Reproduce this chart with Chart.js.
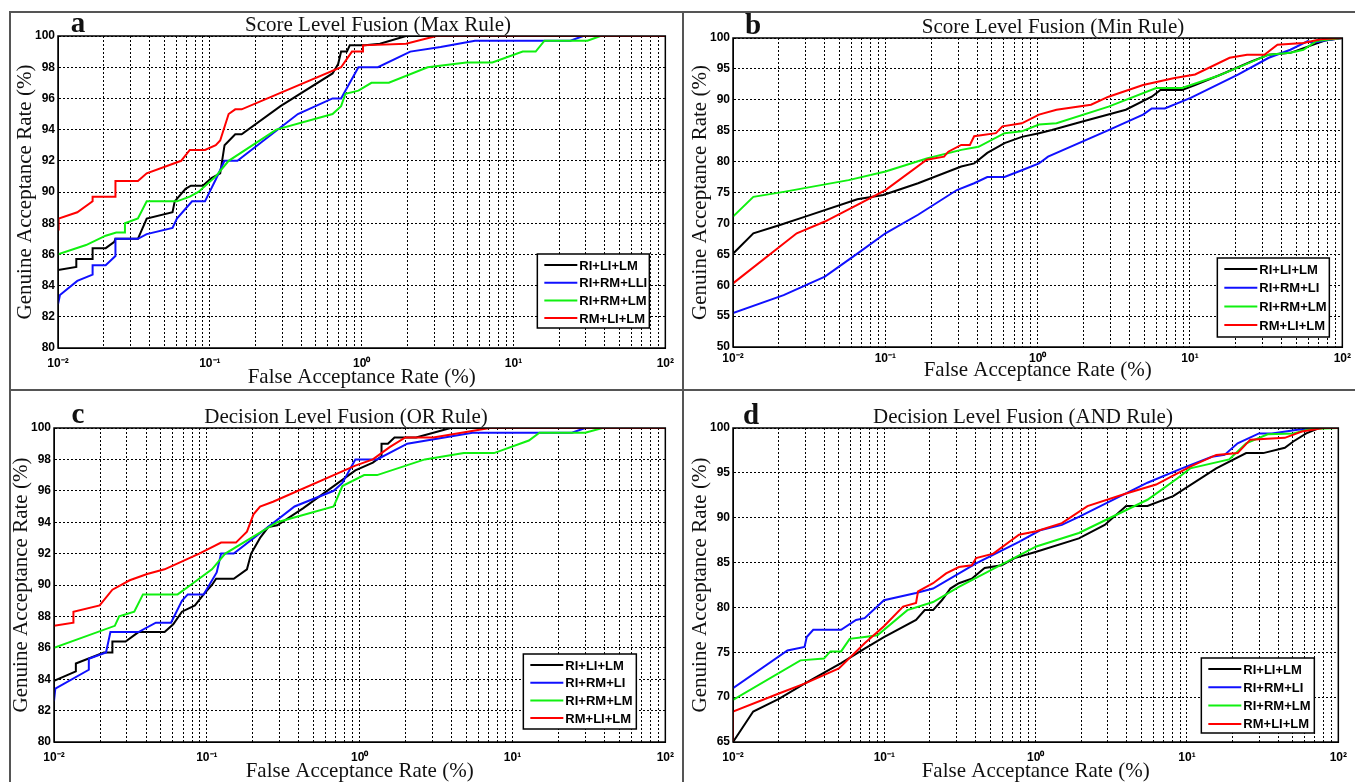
<!DOCTYPE html>
<html>
<head>
<meta charset="utf-8">
<script src="https://cdn.jsdelivr.net/npm/chart.js@4.4.1/dist/chart.umd.min.js"></script>
<style>
  body { margin: 0; background: #fff; width: 1355px; height: 782px; position: relative; overflow: hidden; font-family: 'Liberation Serif', serif; }
  canvas { position: absolute; }
  .ttl { position: absolute; font-size: 21px; color: #111; white-space: nowrap; transform: translate(-50%, -50%); }
  .lett { position: absolute; font-size: 29px; font-weight: bold; color: #111; transform: translate(-50%, -50%); }
  .ln { position: absolute; background: #555; }
</style>
</head>
<body>
<div class="ln" style="left:9px;top:11px;width:2px;height:771px"></div>
<div class="ln" style="left:9px;top:11px;width:1346px;height:2px"></div>
<div class="ln" style="left:682px;top:11px;width:2px;height:771px"></div>
<div class="ln" style="left:9px;top:389px;width:1346px;height:2px"></div>

<canvas id="panelA" width="672" height="377" style="left:10px;top:12px"></canvas>
<canvas id="panelB" width="670" height="377" style="left:685px;top:12px"></canvas>
<canvas id="panelC" width="672" height="390" style="left:10px;top:392px"></canvas>
<canvas id="panelD" width="670" height="390" style="left:685px;top:392px"></canvas>

<div class="lett" style="left:78px;top:22px">a</div>
<div class="lett" style="left:753px;top:24px">b</div>
<div class="lett" style="left:78px;top:413px">c</div>
<div class="lett" style="left:751px;top:414px">d</div>
<div class="ttl" id="ttlA" style="left:378px;top:24px"></div>
<div class="ttl" id="ttlB" style="left:1053px;top:26px"></div>
<div class="ttl" id="ttlC" style="left:346px;top:416px"></div>
<div class="ttl" id="ttlD" style="left:1023px;top:416px"></div>

<script>
// x = False Acceptance Rate (%), y = Genuine Acceptance Rate (%)
var farDecades = [0.01, 0.1, 1, 10, 100];
var farTickLabels = ['10⁻²', '10⁻¹', '10⁰', '10¹', '10²'];
var garTicksA = [80, 82, 84, 86, 88, 90, 92, 94, 96, 98, 100];
var garTicksB = [50, 55, 60, 65, 70, 75, 80, 85, 90, 95, 100];
var garTicksC = [80, 82, 84, 86, 88, 90, 92, 94, 96, 98, 100];
var garTicksD = [65, 70, 75, 80, 85, 90, 95, 100];

var namesA = ['RI+LI+LM', 'RI+RM+LLI', 'RI+RM+LM', 'RM+LI+LM'];
var namesBCD = ['RI+LI+LM', 'RI+RM+LI', 'RI+RM+LM', 'RM+LI+LM'];
var panelTitles = ['Score Level Fusion (Max Rule)', 'Score Level Fusion (Min Rule)',
  'Decision Level Fusion (OR Rule)', 'Decision Level Fusion (AND Rule)'];

// a: score level fusion, max rule
var maxBlack = [[0.01,84.2],[0.01,85.0],[0.0132,85.2],[0.0132,85.7],[0.0169,85.7],[0.0169,86.4],[0.0206,86.4],[0.0235,86.8],[0.0239,87.0],[0.0336,87.0],[0.0384,88.3],[0.0568,88.7],[0.0587,89.4],[0.0692,90.2],[0.075,90.4],[0.0899,90.4],[0.1025,90.9],[0.117,91.2],[0.125,93.0],[0.147,93.7],[0.162,93.7],[0.292,95.5],[0.643,97.6],[0.70,98.2],[0.732,99.0],[0.80,99.0],[0.835,99.4],[1.05,99.4],[1.32,99.5],[1.96,100],[100,100]];
var maxBlue = [[0.01,82.8],[0.0103,83.4],[0.0134,84.3],[0.0169,84.7],[0.0169,85.3],[0.0206,85.3],[0.0239,85.9],[0.0239,87.0],[0.0336,87.0],[0.0384,87.3],[0.0568,87.7],[0.0607,88.3],[0.0764,89.4],[0.0929,89.4],[0.1094,90.8],[0.1248,92.0],[0.152,92.0],[0.380,95.0],[0.643,96.0],[0.732,96.0],[0.952,98.0],[1.28,98.0],[2.09,99.0],[3.31,99.3],[5.58,99.7],[23.7,99.7],[28.8,100],[100,100]];
var maxGreen = [[0.01,86.0],[0.0153,86.6],[0.0206,87.2],[0.0242,87.4],[0.0276,87.4],[0.0276,88.0],[0.0336,88.3],[0.0384,89.4],[0.0607,89.4],[0.0738,89.7],[0.0841,90.0],[0.1094,91.0],[0.133,92.0],[0.274,94.0],[0.643,95.0],[0.732,95.5],[0.782,96.3],[0.952,96.5],[1.16,97.0],[1.51,97.0],[2.72,98.0],[4.90,98.3],[7.26,98.3],[11.5,99.0],[14.0,99.0],[16.0,99.7],[30.7,99.7],[37.4,100],[100,100]];
var maxRed = [[0.01,87.6],[0.0101,88.3],[0.0134,88.7],[0.0169,89.4],[0.0169,89.7],[0.0239,89.7],[0.0239,90.7],[0.0336,90.7],[0.0384,91.2],[0.0647,92.0],[0.0738,92.7],[0.0929,92.7],[0.1094,93.0],[0.117,93.3],[0.133,95.0],[0.147,95.3],[0.162,95.3],[0.732,98.0],[0.863,99.0],[1.02,99.0],[1.02,99.4],[1.96,99.5],[3.10,100],[100,100]];

// b: score level fusion, min rule
var minBlack = [[0.01,65.1],[0.0136,68.4],[0.0201,69.7],[0.0298,71.1],[0.0655,73.9],[0.0969,74.6],[0.164,76.5],[0.315,79.2],[0.383,79.7],[0.467,81.4],[0.606,83.0],[0.787,84.0],[1.02,84.6],[1.24,85.1],[1.97,86.5],[3.79,88.4],[5.61,90.5],[6.40,91.6],[8.87,91.6],[10.8,92.4],[16.0,94.1],[25.3,96.2],[32.9,97.3],[45.6,97.6],[59.3,98.6],[76.9,99.6],[100,100]];
var minBlue = [[0.01,55.5],[0.0215,58.4],[0.0401,61.4],[0.0655,65.1],[0.1002,68.4],[0.164,71.4],[0.295,75.4],[0.383,76.5],[0.467,77.5],[0.606,77.5],[0.787,78.6],[1.02,79.7],[1.17,80.8],[2.92,85.1],[4.92,87.6],[5.61,88.6],[6.83,88.6],[10.1,90.3],[20.8,94.1],[32.9,96.8],[45.6,98.1],[59.3,99.5],[63.2,99.2],[76.9,99.6],[100,100]];
var minGreen = [[0.01,71.1],[0.0136,74.3],[0.0215,75.1],[0.0574,77.0],[0.1002,78.4],[0.187,80.5],[0.315,81.9],[0.409,82.4],[0.606,84.6],[0.787,84.9],[1.02,86.0],[1.33,86.2],[2.92,88.9],[6.00,91.9],[8.87,91.9],[15.0,93.8],[32.9,97.3],[45.6,97.6],[55.5,98.1],[67.5,99.5],[100,100]];
var minRed = [[0.01,60.3],[0.0262,68.4],[0.0401,70.3],[0.0655,73.0],[0.1002,75.4],[0.187,80.3],[0.243,80.8],[0.259,81.6],[0.315,82.7],[0.359,82.7],[0.383,84.1],[0.532,84.6],[0.587,85.7],[0.787,86.2],[1.02,87.6],[1.33,88.4],[2.24,89.2],[2.92,90.5],[4.92,92.4],[7.78,93.5],[10.8,94.1],[18.2,96.8],[23.7,97.3],[30.8,97.3],[37.5,98.9],[55.5,99.2],[72.1,99.8],[100,100]];

// c: decision level fusion, OR rule
var orBlack = [[0.01,83.9],[0.0139,84.5],[0.0139,85.0],[0.0212,85.7],[0.0241,85.7],[0.0241,86.4],[0.0294,86.4],[0.0357,87.0],[0.0529,87.0],[0.0603,87.5],[0.0687,88.3],[0.0836,88.7],[0.0953,89.4],[0.108,90.0],[0.115,90.4],[0.150,90.4],[0.183,91.0],[0.195,92.0],[0.223,93.0],[0.253,93.7],[0.289,93.8],[0.428,94.9],[0.937,97.3],[1.22,97.8],[1.39,98.2],[1.39,99.0],[1.53,99.0],[1.69,99.4],[2.34,99.4],[3.94,100],[100,100]];
var orBlue = [[0.01,82.6],[0.0102,83.4],[0.0169,84.6],[0.0169,85.3],[0.0219,85.7],[0.0234,87.0],[0.0357,87.0],[0.0464,87.6],[0.0583,87.6],[0.0687,89.0],[0.075,89.4],[0.0953,89.4],[0.116,90.8],[0.124,92.0],[0.150,92.0],[0.375,95.0],[0.676,96.0],[0.771,96.5],[0.937,98.0],[1.30,98.0],[2.05,99.0],[5.47,99.7],[24.5,99.7],[29.9,100],[100,100]];
var orGreen = [[0.01,86.0],[0.0250,87.4],[0.0267,88.0],[0.0335,88.3],[0.0382,89.4],[0.0644,89.4],[0.0783,90.0],[0.108,91.0],[0.132,92.0],[0.289,94.0],[0.676,95.0],[0.771,96.3],[1.07,97.0],[1.30,97.0],[2.67,98.0],[4.80,98.4],[7.57,98.4],[12.8,99.2],[15.0,99.7],[29.9,99.7],[38.8,100],[100,100]];
var orRed = [[0.01,87.4],[0.0134,87.6],[0.0134,88.3],[0.0199,88.7],[0.0241,89.7],[0.0313,90.3],[0.0407,90.7],[0.0529,91.0],[0.0892,92.0],[0.124,92.7],[0.155,92.7],[0.183,93.4],[0.202,94.5],[0.223,95.0],[0.271,95.3],[0.937,97.6],[1.22,98.0],[1.58,98.8],[1.99,99.4],[3.03,99.4],[7.10,100],[100,100]];

// d: decision level fusion, AND rule
var andBlack = [[0.01,65.0],[0.0136,68.4],[0.0201,69.8],[0.0297,71.5],[0.0518,73.8],[0.0741,75.4],[0.0994,76.7],[0.162,78.6],[0.185,79.7],[0.210,79.7],[0.240,80.8],[0.273,82.1],[0.311,82.7],[0.378,83.2],[0.460,84.4],[0.597,84.7],[0.726,85.5],[1.01,86.2],[1.93,87.7],[2.86,89.2],[3.96,91.3],[5.48,91.3],[8.11,92.4],[15.6,95.5],[24.6,97.2],[31.9,97.2],[44.3,97.8],[50.4,98.5],[61.4,99.4],[74.6,100],[100,100]];
var andBlue = [[0.01,71.0],[0.0229,75.2],[0.0297,75.6],[0.0307,76.7],[0.0339,77.5],[0.0518,77.5],[0.0650,78.6],[0.0741,78.8],[0.0994,80.8],[0.162,81.6],[0.210,82.1],[0.404,84.9],[0.776,87.3],[1.07,88.6],[1.49,89.2],[1.93,90.1],[5.48,93.9],[9.25,95.5],[14.6,96.8],[17.7,97.0],[21.6,98.3],[29.9,99.4],[36.4,99.4],[53.8,99.8],[74.6,100],[100,100]];
var andGreen = [[0.01,69.7],[0.0279,74.1],[0.0399,74.3],[0.0440,75.1],[0.0518,75.1],[0.0590,76.5],[0.0741,76.7],[0.0901,76.9],[0.142,79.7],[0.210,80.6],[0.311,82.3],[1.01,86.8],[1.93,88.3],[5.48,92.0],[8.66,94.4],[10.5,95.5],[19.0,96.5],[24.6,98.3],[34.1,99.3],[50.4,99.4],[65.5,99.9],[100,100]];
var andRed = [[0.01,65.0],[0.01,68.4],[0.0201,70.4],[0.0297,71.5],[0.0501,73.2],[0.0741,76.0],[0.0994,77.9],[0.133,80.1],[0.162,80.5],[0.167,81.8],[0.210,82.7],[0.256,83.8],[0.311,84.5],[0.378,84.7],[0.404,85.5],[0.525,86.0],[0.776,88.1],[1.01,88.5],[1.49,89.4],[2.20,91.3],[3.96,92.7],[6.25,93.7],[10.5,95.7],[15.6,97.0],[21.6,97.2],[26.2,98.7],[44.3,98.9],[57.4,99.6],[79.6,100],[100,100]];

var lineColors = ['#000000', '#1010ff', '#10f010', '#ff0000'];
var tickFont = { family: "'Liberation Sans', Arial, sans-serif", size: 12, weight: 'bold' };
var labelFont = { family: "'Liberation Serif', 'Times New Roman', serif", size: 21, lineHeight: 1 };

// every decade plus the 2..9 minor lines, as in the log grid
var farGrid = [];
for (var e = -2; e < 2; e++) {
  for (var m = 1; m < 10; m++) farGrid.push(Number((m * Math.pow(10, e)).toPrecision(3)));
}
farGrid.push(100);

// solid box round the plot area
var boxPlugin = {
  id: 'box',
  afterDraw: function (chart) {
    var a = chart.chartArea, ctx = chart.ctx;
    ctx.save();
    ctx.strokeStyle = '#000';
    ctx.lineWidth = 1.5;
    ctx.strokeRect(a.left, a.top, a.right - a.left, a.bottom - a.top);
    ctx.restore();
  }
};

// legend drawn inside the plot, bottom right
var legendPlugin = {
  id: 'boxLegend',
  afterDraw: function (chart, args, opts) {
    var a = chart.chartArea, ctx = chart.ctx;
    var x = a.right - opts.right - opts.w, y = a.bottom - opts.bottom - opts.h;
    ctx.save();
    ctx.fillStyle = '#fff';
    ctx.fillRect(x, y, opts.w, opts.h);
    ctx.strokeStyle = '#000';
    ctx.lineWidth = 1.5;
    ctx.strokeRect(x, y, opts.w, opts.h);
    ctx.font = 'bold 13px "Liberation Sans", Arial, sans-serif';
    ctx.textBaseline = 'middle';
    chart.data.datasets.forEach(function (ds, i) {
      var ry = y + opts.first + i * opts.step;
      ctx.strokeStyle = ds.borderColor;
      ctx.lineWidth = 2;
      ctx.beginPath();
      ctx.moveTo(x + 7, ry);
      ctx.lineTo(x + 40, ry);
      ctx.stroke();
      ctx.fillStyle = '#000';
      ctx.fillText(ds.label, x + 42, ry + 1);
    });
    ctx.restore();
  }
};

function makePanel(id, geo, series, names, garTicks, legendPos) {
  var datasets = series.map(function (s, i) {
    return {
      label: names[i],
      data: s.map(function (p) { return { x: p[0], y: p[1] }; }),
      borderColor: lineColors[i],
      borderWidth: 2,
      pointRadius: 0,
      tension: 0,
      fill: false,
      order: 3 - i
    };
  });

  return new Chart(document.getElementById(id), {
    type: 'line',
    data: { datasets: datasets },
    options: {
      responsive: false,
      animation: false,
      devicePixelRatio: 1,
      layout: { padding: { left: 0, bottom: 0, top: geo.ct - geo.py, right: geo.px + geo.pw - geo.cr } },
      plugins: {
        legend: { display: false },
        tooltip: { enabled: false },
        boxLegend: legendPos
      },
      scales: {
        x: {
          type: 'logarithmic',
          min: 0.01,
          max: 100,
          afterBuildTicks: function (sc) { sc.ticks = farGrid.map(function (v) { return { value: v }; }); },
          afterFit: function (sc) { sc.height = geo.py + geo.ph - geo.cb; },
          grid: { color: '#000', lineWidth: 1, drawTicks: false },
          border: { display: true, color: '#000', width: 1, dash: [2, 2] },
          ticks: {
            autoSkip: false,
            maxRotation: 0,
            padding: geo.xtp,
            color: '#000',
            font: tickFont,
            callback: function (v) {
              var k = farDecades.indexOf(v);
              return k < 0 ? '' : farTickLabels[k];
            }
          },
          title: { display: true, text: 'False Acceptance Rate (%)', color: '#111', font: labelFont, padding: { top: 0, bottom: geo.xto } }
        },
        y: {
          min: garTicks[0],
          max: garTicks[garTicks.length - 1],
          afterBuildTicks: function (sc) { sc.ticks = garTicks.map(function (v) { return { value: v }; }); },
          afterFit: function (sc) { sc.width = geo.cl - geo.px; },
          grid: { color: '#000', lineWidth: 1, drawTicks: false },
          border: { display: true, color: '#000', width: 1, dash: [2, 2] },
          ticks: { padding: 3, color: '#000', font: tickFont },
          title: { display: true, text: 'Genuine Acceptance Rate (%)', color: '#111', font: labelFont, padding: { top: geo.yto, bottom: 0 } }
        }
      }
    },
    plugins: [boxPlugin, legendPlugin]
  });
}

document.getElementById('ttlA').textContent = panelTitles[0];
document.getElementById('ttlB').textContent = panelTitles[1];
document.getElementById('ttlC').textContent = panelTitles[2];
document.getElementById('ttlD').textContent = panelTitles[3];

makePanel('panelA', { px: 10, py: 12, pw: 672, ph: 377, cl: 58, ct: 36, cr: 668, cb: 348, yto: 5, xto: 1, xtp: 8 },
  [maxBlack, maxBlue, maxGreen, maxRed], namesA, garTicksA,
  { right: 16, bottom: 20, w: 112, h: 74, first: 11, step: 17.7 });
makePanel('panelB', { px: 685, py: 12, pw: 670, ph: 377, cl: 733, ct: 38, cr: 1343, cb: 347, yto: 5, xto: 8, xtp: 4 },
  [minBlack, minBlue, minGreen, minRed], namesBCD, garTicksB,
  { right: 13, bottom: 10, w: 112, h: 79, first: 11, step: 18.7 });
makePanel('panelC', { px: 10, py: 392, pw: 672, ph: 390, cl: 54, ct: 428, cr: 666, cb: 742, yto: 1, xto: 0, xtp: 8 },
  [orBlack, orBlue, orGreen, orRed], namesBCD, garTicksC,
  { right: 29, bottom: 13, w: 113, h: 75, first: 11, step: 17.7 });
makePanel('panelD', { px: 685, py: 392, pw: 670, ph: 390, cl: 733, ct: 428, cr: 1345, cb: 742, yto: 5, xto: 0, xtp: 8 },
  [andBlack, andBlue, andGreen, andRed], namesBCD, garTicksD,
  { right: 24, bottom: 9, w: 113, h: 75, first: 11, step: 18.3 });
</script>
</body>
</html>
